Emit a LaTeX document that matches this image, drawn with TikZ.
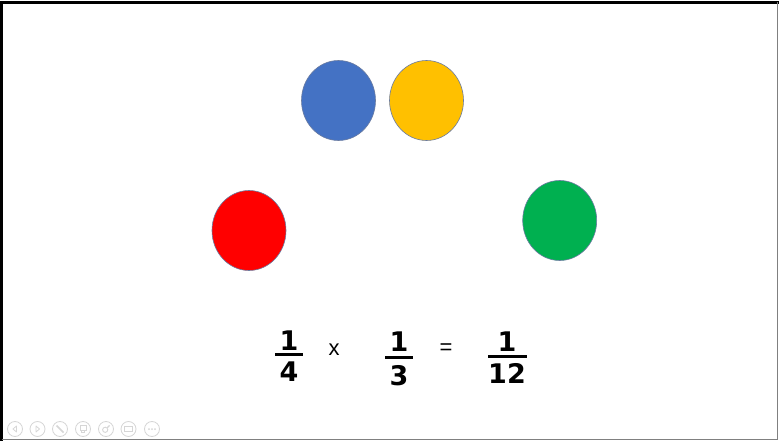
\documentclass[tikz,border=0pt]{standalone}
\usepackage{fontspec}
\setmainfont{Liberation Sans}
\newfontfamily\fracfont{DejaVu Sans}
\usetikzlibrary{shapes.geometric}
\definecolor{cblue}{HTML}{4472C4}
\definecolor{cyellow}{HTML}{FFC000}
\definecolor{cred}{HTML}{FF0000}
\definecolor{cgreen}{HTML}{00B050}
\definecolor{coutline}{HTML}{6A7BA0}
\definecolor{iconcol}{HTML}{D6D6D6}
\begin{document}
\begin{tikzpicture}[x=1pt,y=-1pt,
  ball/.style={ellipse,draw=coutline,line width=0.6pt,minimum width=74pt,minimum height=80pt,inner sep=0pt},
  digit/.style={font=\fracfont\bfseries\fontsize{27}{27}\selectfont,inner sep=0pt,anchor=center},
  opsym/.style={font=\fontsize{22}{22}\selectfont,inner sep=0pt,anchor=center},
  fbar/.style={line width=3pt},
  icon/.style={draw=iconcol,line width=0.8pt,circle,minimum size=15pt,inner sep=0pt}]
\useasboundingbox (0,0) rectangle (779,441);
\fill[white] (0,0) rectangle (779,441);
% frame
\draw[black,line width=2.5pt] (1.6,441) -- (1.6,2.5) -- (779,2.5);
\draw[gray,line width=1.2pt] (777.8,2.5) -- (777.8,439.6) -- (2,439.6);
% balls
\node[ball,fill=cblue] (blue) at (338.5,100.5) {};
\node[ball,fill=cyellow] (yellow) at (426.5,100.5) {};
\node[ball,fill=cred] (red) at (249,230.5) {};
\node[ball,fill=cgreen] (green) at (559.7,220.5) {};
% fraction 1/4
\node[digit] (n1) at (289,340.5) {1};
\node[digit] (d1) at (289,372) {4};
\coordinate (b1l) at (275,354);
\coordinate (b1r) at (303,354);
\draw[fbar] (b1l) -- (b1r);
% times
\node[opsym] (times) at (334,350) {x};
% fraction 1/3
\node[digit] (n2) at (399,342) {1};
\node[digit] (d2) at (399,376) {3};
\coordinate (b2l) at (385,357);
\coordinate (b2r) at (413,357);
\draw[fbar] (b2l) -- (b2r);
% equals
\node[opsym] (eq) at (446,349.5) {=};
% fraction 1/12
\node[digit] (n3) at (507,342) {1};
\node[digit] (d3) at (507,373.5) {12};
\coordinate (b3l) at (488,356);
\coordinate (b3r) at (527,356);
\draw[fbar] (b3l) -- (b3r);
% toolbar icons
\node[icon] (i1) at (15,429) {};
\node[icon] (i2) at (37.5,429) {};
\node[icon] (i3) at (60,429) {};
\node[icon] (i4) at (83,429) {};
\node[icon] (i5) at (106,429) {};
\node[icon] (i6) at (128.5,429) {};
\node[icon] (i7) at (152,429) {};
\draw[iconcol,line width=0.8pt,line join=round] ([xshift=1.5pt,yshift=-3pt]i1.center) -- ([xshift=-2pt]i1.center) -- ([xshift=1.5pt,yshift=3pt]i1.center) -- cycle;
\draw[iconcol,line width=0.8pt,line join=round] ([xshift=-1.5pt,yshift=-3pt]i2.center) -- ([xshift=2pt]i2.center) -- ([xshift=-1.5pt,yshift=3pt]i2.center) -- cycle;
\draw[iconcol,line width=1.6pt] ([xshift=-3.5pt,yshift=3.5pt]i3.center) -- ([xshift=3.5pt,yshift=-3.5pt]i3.center);
\draw[iconcol,line width=0.8pt] ([xshift=-3pt,yshift=-1.5pt]i4.center) rectangle ([xshift=3pt,yshift=3.5pt]i4.center);
\draw[iconcol,line width=0.8pt] ([xshift=-1.5pt,yshift=-3.5pt]i4.center) rectangle ([xshift=1.5pt,yshift=-1.5pt]i4.center);
\draw[iconcol,line width=0.9pt] ([xshift=-0.8pt,yshift=-0.8pt]i5.center) circle (2.6pt);
\draw[iconcol,line width=1.3pt] ([xshift=1.2pt,yshift=1.2pt]i5.center) -- ([xshift=3.6pt,yshift=3.6pt]i5.center);
\draw[iconcol,line width=0.8pt] ([xshift=-4pt,yshift=-2.5pt]i6.center) rectangle ([xshift=4pt,yshift=2.5pt]i6.center);
\fill[iconcol] ([xshift=-3pt]i7.center) circle (1pt) (i7.center) circle (1pt) ([xshift=3pt]i7.center) circle (1pt);
\end{tikzpicture}
\end{document}
